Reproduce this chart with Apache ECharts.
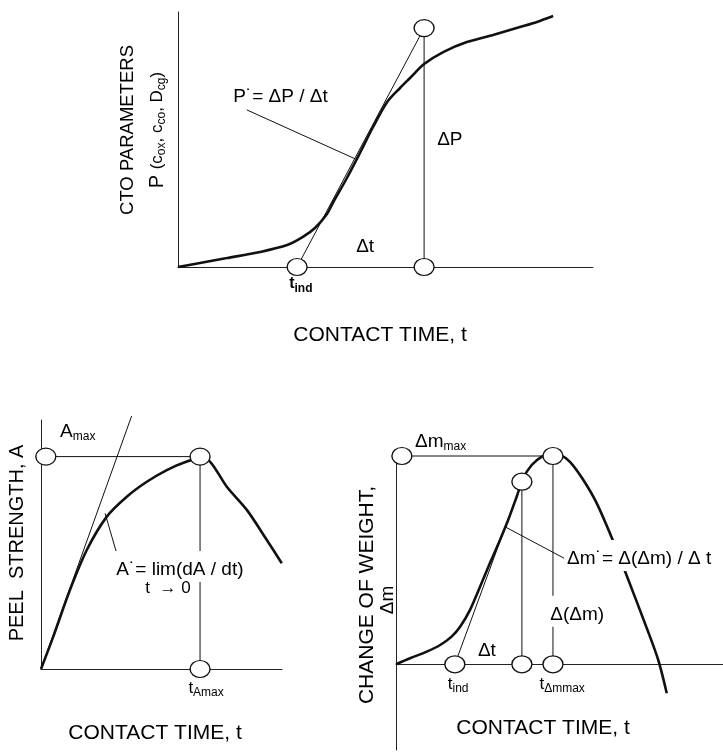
<!DOCTYPE html>
<html>
<head>
<meta charset="utf-8">
<script src="https://cdn.jsdelivr.net/npm/echarts@6/dist/echarts.min.js"></script>
<style>
  html, body { margin: 0; padding: 0; background: #fff; }
  #c { width: 723px; height: 752px; }
</style>
</head>
<body>
<div id="c"></div>
<script>
// ---------- Panel 1: CTO parameters P vs contact time (t, P in 0-100 schematic units)
const ctoCurve = [[0,0],[5.3,1.6],[11.8,3.5],[19.8,5.9],[26.3,8.6],[30.1,11.8],[33.0,15.3],
  [35.9,20.8],[37.3,25.1],[40.7,34.9],[43.9,44.9],[47.0,54.9],[50.4,64.7],[53.5,70.2],
  [55.9,74.1],[59.3,79.6],[63.9,84.3],[69.6,88.2],[75.9,91.0],[82.4,94.1],[86.5,96.1],[90.4,98.4]];
const ctoRings   = [[28.7,0],[59.3,93.7],[59.3,0]];
const ctoTangent = [[28.7,0],[59.3,93.7]];
const ctoDrop    = [[59.3,93.7],[59.3,0]];
const ctoLeader  = [[16.6,61.6],[42.7,42.4]];
const ctoNotes = [
  [13.3, 66.7, '{n|P˙= ΔP / Δt}', 'left', false],
  [65.5, 49.8, '{n|ΔP}', 'center', false],
  [45.1, 7.8, '{n|Δt}', 'center', false],
  [29.6, -6.7, '{tb|t}{sb|ind}', 'center', false]
];

// ---------- Panel 2: peel strength A vs contact time
const peelCurve = [[0,0],[5.1,13.0],[12.0,31.7],[19.0,47.8],[27.3,61.2],[35.6,69.2],[43.9,75.2],
  [52.2,79.9],[60.5,83.3],[66.0,84.6],[70.1,83.3],[77.1,73.2],[85.4,63.9],[93.7,51.8],[99.9,42.5]];
const peelRings   = [[2.0,85.3],[66.0,85.3],[66.0,0]];
const peelTangent = [[0,0],[37.6,101.6]];
const peelLevel   = [[2.0,85.3],[66.0,85.3]];
const peelDrop    = [[66.0,85.3],[66.0,0]];
const peelLeader  = [[26.6,62.5],[31.4,46.5]];
const peelNotes = [
  [7.9, 95.2, '{n|A}{s|max}', 'left', false],
  [30.0, 41.2, '{n|A˙= lim(dA / dt)}', 'left', true],
  [52.7, 32.5, '{m|t  → 0}', 'center', false],
  [68.5, -7.6, '{t|t}{s|Amax}', 'center', false]
];

// ---------- Panel 3: change of weight Δm vs contact time
const massCurve = [[0,0],[4.3,2.8],[9.4,5.9],[13.5,9.0],[17.0,12.9],[19.6,17.5],[22.6,25.3],
  [25.7,36.2],[28.7,47.1],[31.8,58.0],[34.3,67.3],[36.9,78.2],[38.9,86.8],[41.5,93.0],
  [44.6,96.9],[47.6,98.5],[50.2,97.7],[53.2,94.5],[57.3,86.0],[61.4,75.1],[66.5,57.2],
  [70.6,41.2],[76.7,16.8],[80.2,2.0],[82.8,-13.5]];
const massRings   = [[1.8,97.2],[48.0,97.2],[38.5,85.2],[18.0,0],[38.5,0],[48.0,0]];
const massTangent = [[18.0,0],[38.5,85.2]];
const massLevel   = [[1.8,97.2],[48.0,97.2]];
const massDropA   = [[38.5,85.2],[38.5,0]];
const massDropB   = [[48.0,97.2],[48.0,0]];
const massLeader  = [[33.3,64.2],[52.0,49.0]];
const massNotes = [
  [5.8, 103.7, '{n|Δm}{s|max}', 'left', false],
  [51.4, 50.8, '{n|Δm˙= Δ(Δm) / Δ t}', 'left', true],
  [55.4, 24.8, '{n|Δ(Δm)}', 'center', true],
  [27.8, 6.2, '{n|Δt}', 'center', false],
  [19.0, -9.2, '{t|t}{s|ind}', 'center', false],
  [50.8, -9.2, '{t|t}{s|Δmmax}', 'center', false]
];

const FONT = '"Liberation Sans", Arial, Helvetica, sans-serif';
const INK = '#000';

const rich = {
  n:  { fontSize: 19, fontFamily: FONT, color: INK, verticalAlign: 'middle', lineHeight: 22 },
  m:  { fontSize: 17, fontFamily: FONT, color: INK, verticalAlign: 'middle', lineHeight: 22 },
  t:  { fontSize: 17, fontFamily: FONT, color: INK, verticalAlign: 'middle', lineHeight: 22 },
  s:  { fontSize: 12, fontFamily: FONT, color: INK, verticalAlign: 'bottom', lineHeight: 9 },
  tb: { fontSize: 16, fontFamily: FONT, color: INK, fontWeight: 'bold', verticalAlign: 'middle', lineHeight: 22 },
  sb: { fontSize: 12, fontFamily: FONT, color: INK, fontWeight: 'bold', verticalAlign: 'bottom', lineHeight: 9 }
};

const axisBase = {
  type: 'value', min: 0, max: 100,
  axisTick: { show: false }, axisLabel: { show: false }, splitLine: { show: false },
  axisLine: { show: true, onZero: true, lineStyle: { color: '#222', width: 1 } }
};

function line(data, gi, width, smooth, z) {
  return {
    type: 'line', xAxisIndex: gi, yAxisIndex: gi, data: data,
    symbol: 'none', smooth: smooth, clip: false, silent: true, z: z,
    lineStyle: { color: '#111', width: width }
  };
}
function rings(data, gi) {
  return {
    type: 'scatter', xAxisIndex: gi, yAxisIndex: gi, data: data,
    symbol: 'circle', symbolSize: [20, 17], clip: false, silent: true, z: 5,
    itemStyle: { color: '#fff', borderColor: '#111', borderWidth: 1.3, opacity: 1 }
  };
}
function notes(items, gi) {
  return {
    type: 'scatter', xAxisIndex: gi, yAxisIndex: gi, symbolSize: 0, clip: false, silent: true, z: 6,
    itemStyle: { opacity: 1 },
    data: items.map(([x, y, text, align, bg]) => ({
      value: [x, y], text: text,
      label: {
        show: true, position: [0, 0], align: align, verticalAlign: 'middle',
        backgroundColor: bg ? '#fff' : 'transparent', padding: bg ? [8, 3, 1, 3] : 0
      }
    })),
    label: { show: true, color: INK, textBorderWidth: 0, formatter: p => p.data.text, rich: rich }
  };
}

const chart = echarts.init(document.getElementById('c'), null, { renderer: 'canvas' });

chart.setOption({
  animation: false,
  backgroundColor: '#fff',
  grid: [
    { left: 178, top: 12, width: 415, height: 255 },
    { left: 41, top: 420, width: 241, height: 249 },
    { left: 396, top: 450, width: 327, height: 300 }
  ],
  xAxis: [
    Object.assign({}, axisBase, { gridIndex: 0 }),
    Object.assign({}, axisBase, { gridIndex: 1 }),
    Object.assign({}, axisBase, { gridIndex: 2 })
  ],
  yAxis: [
    Object.assign({}, axisBase, { gridIndex: 0 }),
    Object.assign({}, axisBase, { gridIndex: 1 }),
    Object.assign({}, axisBase, { gridIndex: 2, min: -40 })
  ],
  series: [
    line(ctoTangent, 0, 1, false, 2),
    line(ctoDrop, 0, 1, false, 2),
    line(ctoLeader, 0, 1, false, 2),
    line(ctoCurve, 0, 2.6, 0.3, 3),
    rings(ctoRings, 0),
    notes(ctoNotes, 0),

    line(peelTangent, 1, 1, false, 2),
    line(peelLevel, 1, 1, false, 2),
    line(peelDrop, 1, 1, false, 2),
    line(peelLeader, 1, 1, false, 2),
    line(peelCurve, 1, 2.6, 0.3, 3),
    rings(peelRings, 1),
    notes(peelNotes, 1),

    line(massTangent, 2, 1, false, 2),
    line(massLevel, 2, 1, false, 2),
    line(massDropA, 2, 1, false, 2),
    line(massDropB, 2, 1, false, 2),
    line(massLeader, 2, 1, false, 2),
    line(massCurve, 2, 2.6, 0.3, 3),
    rings(massRings, 2),
    notes(massNotes, 2)
  ],
  graphic: [
    { type: 'text', x: 380, y: 335, style: { text: 'CONTACT TIME, t', fontSize: 21, fontFamily: FONT, fill: INK, align: 'center', verticalAlign: 'middle' } },
    { type: 'text', x: 128, y: 130, rotation: Math.PI / 2, style: { text: 'CTO PARAMETERS', fontSize: 18.5, fontFamily: FONT, fill: INK, align: 'center', verticalAlign: 'middle' } },
    { type: 'text', x: 157, y: 130, rotation: Math.PI / 2, style: {
        text: '{a|P }{b|(c}{s|ox}{b|, c}{s|co}{b|, D}{s|cg}{b|)}', align: 'center', verticalAlign: 'middle',
        rich: {
          a: { fontSize: 20, fontFamily: FONT, fill: INK, verticalAlign: 'middle', lineHeight: 22 },
          b: { fontSize: 17, fontFamily: FONT, fill: INK, verticalAlign: 'middle', lineHeight: 22 },
          s: { fontSize: 12, fontFamily: FONT, fill: INK, verticalAlign: 'bottom', lineHeight: 9 }
        } } },

    { type: 'text', x: 155, y: 733, style: { text: 'CONTACT TIME, t', fontSize: 21, fontFamily: FONT, fill: INK, align: 'center', verticalAlign: 'middle' } },
    { type: 'text', x: 17, y: 543, rotation: Math.PI / 2, style: { text: 'PEEL  STRENGTH, A', fontSize: 20, fontFamily: FONT, fill: INK, align: 'center', verticalAlign: 'middle' } },

    { type: 'text', x: 543, y: 728, style: { text: 'CONTACT TIME, t', fontSize: 21, fontFamily: FONT, fill: INK, align: 'center', verticalAlign: 'middle' } },
    { type: 'text', x: 367, y: 595, rotation: Math.PI / 2, style: { text: 'CHANGE OF WEIGHT,', fontSize: 21, fontFamily: FONT, fill: INK, align: 'center', verticalAlign: 'middle' } },
    { type: 'text', x: 388, y: 600, rotation: Math.PI / 2, style: { text: 'Δm', fontSize: 19, fontFamily: FONT, fill: INK, align: 'center', verticalAlign: 'middle' } }
  ]
});
</script>
</body>
</html>
